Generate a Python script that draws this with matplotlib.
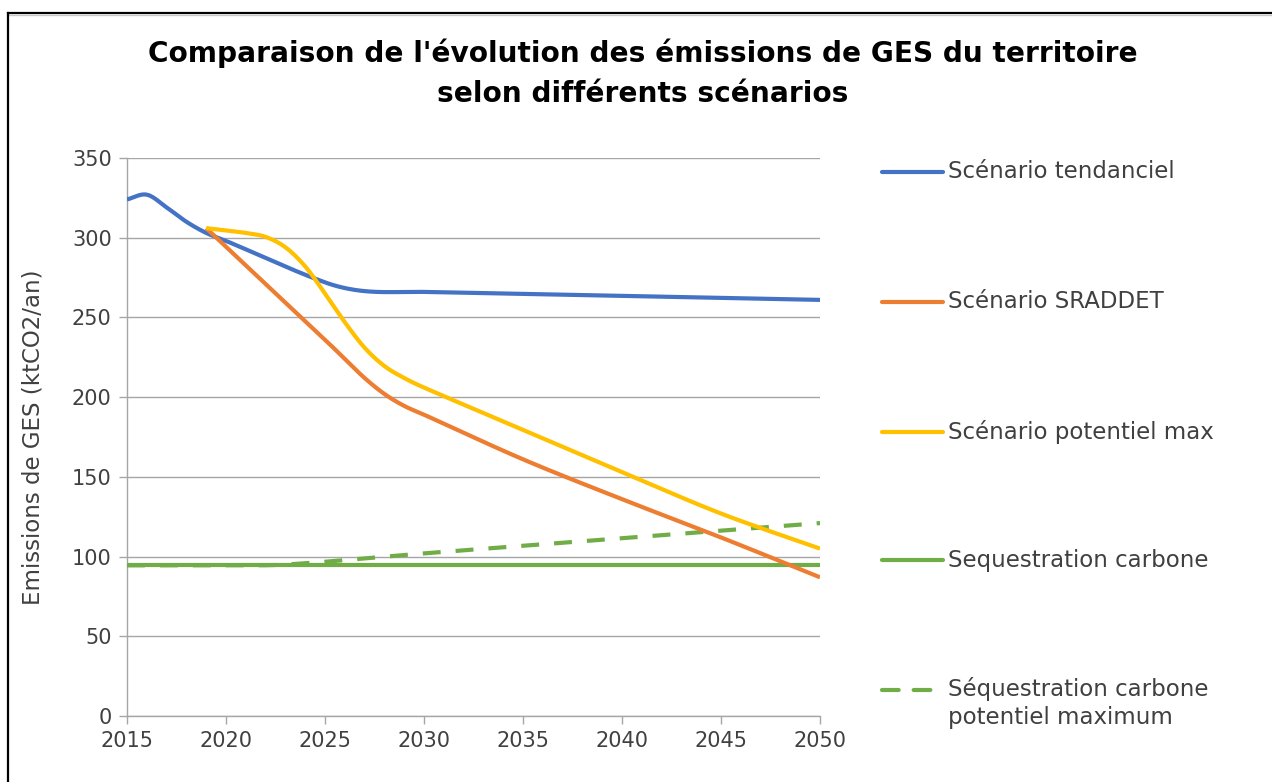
import matplotlib
matplotlib.use("Agg")
import matplotlib.pyplot as plt
from matplotlib.lines import Line2D
import numpy as np

# ── data ───────────────────────────────────────────────────────────────────
tend_years = [2015, 2016, 2017, 2018, 2019, 2020, 2025, 2027, 2030, 2050]
tend_vals  = [324, 327, 319, 310, 303, 298, 272, 266.5, 266, 261]

sraddet_years = [2019, 2025, 2026, 2027, 2028, 2029, 2030, 2035, 2040, 2045, 2050]
sraddet_vals  = [306, 236, 224, 212, 202, 194.5, 189, 161, 136, 112, 87]

potmax_years = [2019, 2020, 2021, 2022, 2023, 2024, 2025, 2026, 2027, 2028,
                2029, 2030, 2035, 2040, 2045, 2050]
potmax_vals  = [306, 304.5, 303, 300.5, 294, 282, 265, 247, 231, 219.5,
                212, 206, 179.5, 153, 127, 105]

seq_years = [2015, 2050]
seq_vals  = [94.5, 94.5]

seqmax_years = [2015, 2020, 2023, 2030, 2040, 2050]
seqmax_vals  = [94.5, 94.5, 95, 102, 111.5, 121]

labels = ["Scénario tendanciel", "Scénario SRADDET", "Scénario potentiel max",
          "Sequestration carbone", "Séquestration carbone\npotentiel maximum"]

# ── style ──────────────────────────────────────────────────────────────────
BLUE   = "#4472C4"
ORANGE = "#ED7D31"
YELLOW = "#FFC000"
GREEN  = "#70AD47"
GRID   = "#a6a6a6"
TEXT   = "#404040"

plt.rcParams["font.family"] = ["DejaVu Sans"]


def smooth(xs, ys, n=30):
    """Cubic Hermite through the points (like Excel's smoothed line)."""
    x = np.asarray(xs, float)
    y = np.asarray(ys, float)
    if len(x) < 3:
        return x, y
    m = np.empty_like(y)
    m[1:-1] = (y[2:] - y[:-2]) / (x[2:] - x[:-2])
    m[0] = (y[1] - y[0]) / (x[1] - x[0])
    m[-1] = (y[-1] - y[-2]) / (x[-1] - x[-2])
    px, py = [], []
    for i in range(len(x) - 1):
        h = x[i + 1] - x[i]
        t = np.linspace(0, 1, n, endpoint=False)
        h00 = 2 * t**3 - 3 * t**2 + 1
        h10 = t**3 - 2 * t**2 + t
        h01 = -2 * t**3 + 3 * t**2
        h11 = t**3 - t**2
        px.append(x[i] + t * h)
        py.append(h00 * y[i] + h10 * h * m[i] + h01 * y[i + 1] + h11 * h * m[i + 1])
    px.append([x[-1]])
    py.append([y[-1]])
    return np.concatenate(px), np.concatenate(py)


W, H = 1272, 782
fig = plt.figure(figsize=(W / 100, H / 100), dpi=100)
fig.patch.set_facecolor("white")

# frame of the chart object (cropped on right/bottom)
fig.add_artist(Line2D([8 / W, 1], [1 - 13 / H, 1 - 13 / H], color="black", lw=1.6))
fig.add_artist(Line2D([8 / W, 1], [1 - 15 / H, 1 - 15 / H], color="#c8c8c8", lw=1.0))
fig.add_artist(Line2D([8 / W, 8 / W], [0, 1 - 13 / H], color="black", lw=1.6))

ax = fig.add_axes([127 / W, 1 - 716 / H, (820 - 127) / W, (716 - 158) / H])

LW = 3.0
ax.plot(*smooth(tend_years, tend_vals), color=BLUE, lw=LW, solid_capstyle="butt", zorder=4)
ax.plot(*smooth(sraddet_years, sraddet_vals), color=ORANGE, lw=LW, solid_capstyle="butt", zorder=5)
ax.plot(*smooth(potmax_years, potmax_vals), color=YELLOW, lw=LW, solid_capstyle="butt", zorder=6)
ax.plot(seq_years, seq_vals, color=GREEN, lw=LW, solid_capstyle="butt", zorder=3)
ax.plot(*smooth(seqmax_years, seqmax_vals), color=GREEN, lw=LW, dashes=(4.3, 3.6),
        dash_capstyle="butt", zorder=3)

ax.set_xlim(2015, 2050)
ax.set_ylim(0, 350)
ax.set_xticks(range(2015, 2051, 5))
ax.set_yticks(range(0, 351, 50))
ax.grid(axis="y", color=GRID, lw=1.0)
ax.set_axisbelow(True)
for s in ["top", "right"]:
    ax.spines[s].set_visible(False)
for s in ["left", "bottom"]:
    ax.spines[s].set_color(GRID)
    ax.spines[s].set_linewidth(1.0)
ax.tick_params(axis="both", colors=GRID, length=6, width=1.0, labelcolor=TEXT,
               labelsize=15, pad=5)
ax.tick_params(axis="x", pad=5)

ax.set_ylabel("Emissions de GES (ktCO2/an)", fontsize=16.5, color=TEXT)
ax.yaxis.label.set_va("center")
ax.yaxis.set_label_coords(-0.136, 0.5)

fig.text(643 / W, 1 - 53 / H, "Comparaison de l'évolution des émissions de GES du territoire",
         ha="center", va="center", fontsize=20.2, fontweight="bold", color="black")
fig.text(643 / W, 1 - 94 / H, "selon différents scénarios",
         ha="center", va="center", fontsize=20.2, fontweight="bold", color="black")

# ── legend (drawn by hand to match spacing) ───────────────────────────────
leg_y = [172, 302, 432, 560, 690]
leg_col = [BLUE, ORANGE, YELLOW, GREEN, GREEN]
for i, (yy, c, lab) in enumerate(zip(leg_y, leg_col, labels)):
    yf = 1 - yy / H
    if "\n" in lab:
        fig.add_artist(Line2D([882 / W, 943 / W], [yf, yf], color=c, lw=LW,
                              dashes=(4.0, 3.6), dash_capstyle="round"))
        fig.text(948 / W, yf + 13 / H, lab, ha="left", va="top",
                 fontsize=16.5, color=TEXT, linespacing=1.3)
    else:
        fig.add_artist(Line2D([882 / W, 943 / W], [yf, yf], color=c, lw=LW,
                              solid_capstyle="round"))
        fig.text(948 / W, yf, lab, ha="left", va="center", fontsize=16.5, color=TEXT)

fig.savefig("out.png", dpi=100, facecolor="white")
